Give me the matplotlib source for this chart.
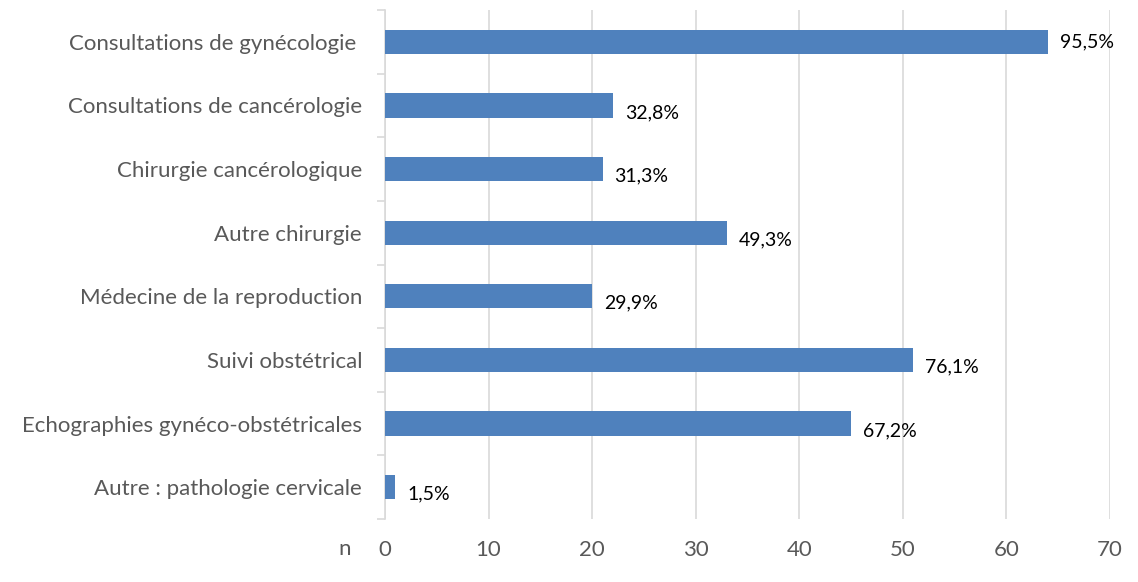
import matplotlib

matplotlib.use("Agg")
import matplotlib.pyplot as plt  # noqa: E402
import numpy as np  # noqa: E402

# donnees (haut -> bas)
categories = [
    "Consultations de gynécologie ",
    "Consultations de cancérologie",
    "Chirurgie cancérologique",
    "Autre chirurgie",
    "Médecine de la reproduction",
    "Suivi obstétrical",
    "Echographies gynéco-obstétricales",
    "Autre : pathologie cervicale",
]
counts = [64, 22, 21, 33, 20, 51, 45, 1]
pct_labels = ["95,5%", "32,8%", "31,3%", "49,3%", "29,9%", "76,1%", "67,2%", "1,5%"]
x_ticks = [0, 10, 20, 30, 40, 50, 60, 70]

BAR = "#4f81bd"
GRID = "#d9d9d9"
TXT = "#595959"

plt.rcParams.update({"font.family": ["Lato", "DejaVu Sans"]})

fig = plt.figure(figsize=(11.38, 5.82), dpi=100)
ax = fig.add_axes([385 / 1138, 1 - 519 / 582, 725 / 1138, 509 / 582])

y = np.arange(len(categories))
ax.barh(y, counts, height=0.38, color=BAR, zorder=3)

for i, (v, lab) in enumerate(zip(counts, pct_labels)):
    dy = 0 if i == 0 else -5
    ax.annotate(lab, (v, i), xytext=(8.5, dy), textcoords="offset points",
                ha="left", va="center", fontsize=14, color="#000000")

ax.set_xlim(0, 70)
ax.set_ylim(len(categories) - 0.5, -0.5)
ax.set_xticks(x_ticks)
ax.set_xticklabels([str(t) for t in x_ticks], fontsize=16, color=TXT)
ax.set_yticks(y)
ax.set_yticklabels(categories, fontsize=16, color=TXT)
ax.tick_params(axis="y", length=0, pad=16.5)
ax.tick_params(axis="x", length=0, pad=15)
ax.set_yticks(np.arange(-0.5, len(categories), 1), minor=True)
ax.tick_params(axis="y", which="minor", length=6, color=GRID, width=1.2)

ax.grid(axis="x", color=GRID, lw=1.2, zorder=0)
for s in ["top", "right", "bottom"]:
    ax.spines[s].set_visible(False)
ax.spines["left"].set_color(GRID)
ax.spines["left"].set_linewidth(1.2)

fig.text(345 / 1138, 1 - 549 / 582, "n", fontsize=16, color=TXT,
         ha="center", va="center")

fig.savefig("out.png", dpi=100, facecolor="white")
